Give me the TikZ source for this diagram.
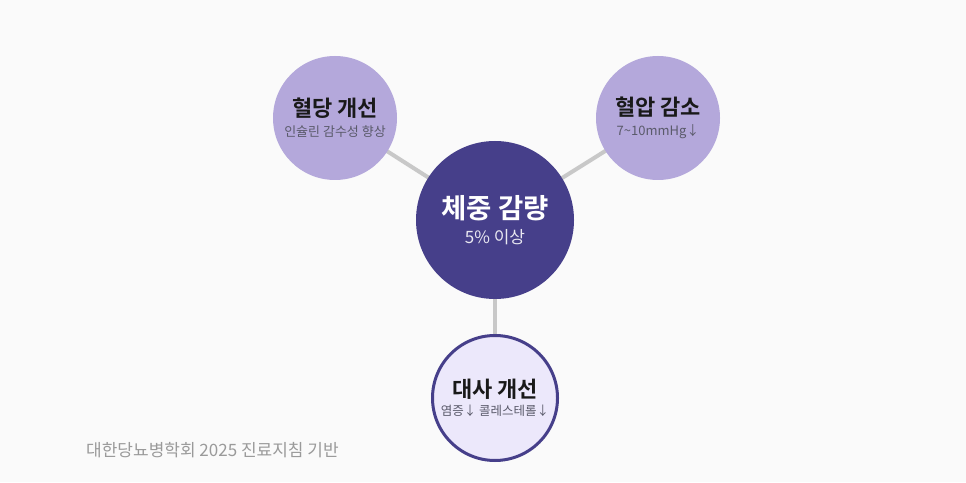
\documentclass[tikz,border=0pt]{standalone}
\usepackage{fontspec}
\setmainfont{Noto Sans CJK KR}[BoldFont={Noto Sans CJK KR Bold}]
\usetikzlibrary{positioning}
\definecolor{bgcol}{HTML}{FAFAFA}
\definecolor{maincol}{HTML}{463F8A}
\definecolor{outercol}{HTML}{B4A8DB}
\definecolor{lightcol}{HTML}{ECE8FB}
\definecolor{linkcol}{HTML}{C8C8C8}
\definecolor{subcol}{HTML}{5A5A6A}
\definecolor{notecol}{HTML}{9A9A9A}

\begin{document}
\begin{tikzpicture}[
            x=1pt, y=1pt,
            hub/.style={circle, fill=maincol, minimum size=158pt, inner sep=0pt, align=center, text=white},
            goal/.style={circle, fill=outercol, minimum size=124pt, inner sep=0pt, align=center, text=black!90},
            goallight/.style={circle, draw=maincol, line width=3pt, fill=lightcol, minimum size=125pt, inner sep=0pt, align=center, text=black!90},
            link/.style={draw=linkcol, line width=4pt}
        ]

        \fill[bgcol] (0,0) rectangle (966,482);
        \useasboundingbox (0,0) rectangle (966,482);

        % Connectors
        \coordinate (c) at (495,262);
        \draw[link] (c) -- (335,364) coordinate (g1);
        \draw[link] (c) -- (658,364) coordinate (g2);
        \draw[link] (c) -- (495,84) coordinate (g3);

        % Center
        \node[hub] (weight) at (c) {{\bfseries\fontsize{27.5}{30}\selectfont 체중 감량}\\[7pt]{\fontsize{17}{18}\selectfont\color{white!88!maincol} 5\% 이상}};

        % Outer goals
        \node[goal] (glucose) at (g1) {{\bfseries\fontsize{22}{24}\selectfont 혈당 개선}\\[6pt]{\fontsize{13}{14}\selectfont\color{subcol} 인슐린 감수성 향상}};

        \node[goal] (pressure) at (g2) {{\bfseries\fontsize{22}{24}\selectfont 혈압 감소}\\[6pt]{\fontsize{13}{14}\selectfont\color{subcol} 7\textasciitilde10mmHg↓}};

        \node[goallight] (metab) at (g3) {{\bfseries\fontsize{22}{24}\selectfont 대사 개선}\\[4pt]{\fontsize{12.5}{14}\selectfont\color{subcol} 염증↓ 콜레스테롤↓}};

        % Source note
        \node[anchor=west, inner sep=0pt, text=notecol, font=\fontsize{17}{18}\selectfont] (note) at (86,32) {대한당뇨병학회 2025 진료지침 기반};

    \end{tikzpicture}
\end{document}
